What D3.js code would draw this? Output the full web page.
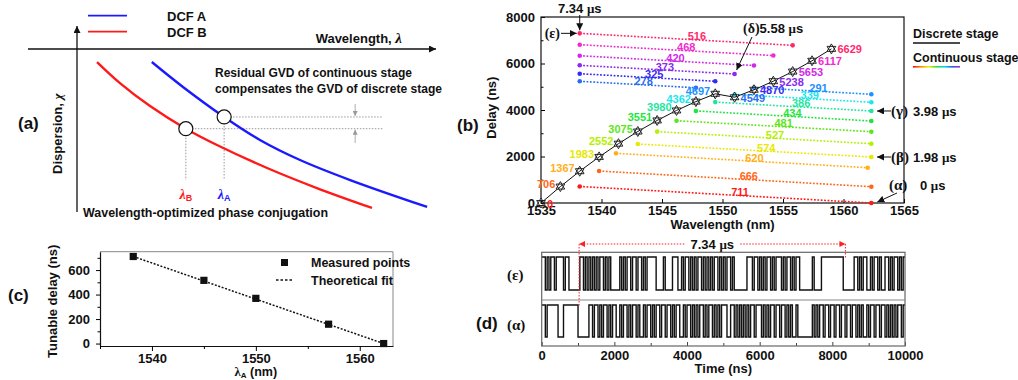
<!DOCTYPE html>
<html><head><meta charset="utf-8">
<script src="https://cdn.jsdelivr.net/npm/d3@7"></script>
<style>
body{margin:0;background:#fff}
text{font-family:"Liberation Sans",Arial,sans-serif;font-weight:bold;fill:#111}
.serif{font-family:"Liberation Serif","Times New Roman",serif}
</style></head><body>
<svg id="fig" width="1018" height="380"></svg>
<script>
// ---- panel (a): sketch curves, arbitrary units ----
const dcfA = [[20.9,92],[29.6,76.7],[41.1,58.3],[51.1,44.2],[62.3,31.9],[76.3,19.6],[97.8,3.1]];
const dcfB = [[5.6,92],[12.0,79.1],[20.4,65.0],[30.4,51.1],[39.1,41.1],[53.1,27.0],[67,14.7],[82.4,2.5]];
const opA = 2, opB = 3; // index of the optimized point on each curve

// ---- panel (b) ----
const discreteWl = [1535.0,1536.6,1538.2,1539.8,1541.4,1543.0,1544.6,1546.2,1547.8,1549.4,1551.0,1552.6,1554.2,1555.8,1557.4,1559.0];
const discreteDelay = [0,706,1367,1983,2552,3075,3551,3980,4362,4697,4549,4870,5238,5653,6117,6629];
const contLabel = [711,666,620,574,527,481,434,386,339,291,278,325,373,420,468,516];
const contWlStart = [1538.2,1539.8,1541.2,1543.0,1544.6,1546.2,1547.8,1549.4,1551.0,1552.6,1538.2,1538.2,1538.2,1538.2,1538.2,1538.2];
const contDelayStart = [711,1376,2137,2538,3070,3540,3960,4340,4670,4966,5234,5561,5922,6335,6809,7297];
const contWlEnd = [1562.3,1562.3,1562.0,1562.3,1562.3,1562.3,1562.3,1562.3,1562.3,1562.3,1547.8,1549.4,1551.0,1552.6,1554.2,1555.8];
const contDelayEnd = [0,701,1518,1978,2551,3067,3527,3957,4331,4675,4956,5236,5549,5915,6341,6781];
const rainbow = ["#ff1a1a","#ff6619","#ffb019","#e8e800","#b4f000","#5ce61a","#1ee63c","#1ee6a0","#19e6f0","#1e90ff","#2a6cf0","#3a2af0","#8a2af0","#d02ae8","#f02ad0","#ff2a6e"];
const xTicksB = [1535,1540,1545,1550,1555,1560,1565];
const yTicksB = [0,2000,4000,6000,8000];

// ---- panel (c) ----
const measWl = [1538.2,1545.0,1550.0,1557.0,1562.3];
const measDelay = [711,516,369,158,0];
const fitWl = [1538.2,1562.3];
const fitDelay = [711,0];

// ---- panel (d): bit patterns, 50 ns per symbol ----
const bitNs = 50;
const epsBits =
  "1101011011"+"1101100000"+"0110101010"+"1011010100"+"0001010110"+
  "1101101011"+"1110000100"+"0011100101"+"1010101101"+"0101011010"+
  "1011010000"+"0001110110"+"1010110101"+"1101011010"+"1100000001"+
  "0000111111"+"1111110000"+"0011010110"+"0101101001"+"1010110101";
const alphaBits =
  "1101111110"+"0011111111"+"0000001101"+"1010110101"+"1001011010"+
  "1101001011"+"0101101101"+"1010110010"+"1101010110"+"1011010101"+
  "1100110101"+"0101011011"+"1010101101"+"1011010100"+"1000000001"+
  "0101101101"+"1011011011"+"0110101001"+"0110110110"+"1010101101";

const svg = d3.select("#fig");
const defs = svg.append("defs");
function addMarker(id, color, size) {
  defs.append("marker").attr("id", id).attr("viewBox", "0 0 10 10")
    .attr("refX", 10).attr("refY", 5).attr("markerUnits", "userSpaceOnUse")
    .attr("markerWidth", size).attr("markerHeight", size).attr("orient", "auto-start-reverse")
    .append("path").attr("d", "M0,0 L10,5 L0,10 z").attr("fill", color);
}
addMarker("arrK", "#111", 7);
addMarker("arrG", "#999", 5);
addMarker("arrR", "#ff2020", 6);
const grad = defs.append("linearGradient").attr("id", "rainbowGrad");
["#ff0000","#ff8800","#eeee00","#33dd33","#00dddd","#3355ff","#9933cc"].forEach((c, i, a) =>
  grad.append("stop").attr("offset", i / (a.length - 1)).attr("stop-color", c));

function arrow(g, x1, y1, x2, y2, color, mk, w) {
  return g.append("line").attr("x1", x1).attr("y1", y1).attr("x2", x2).attr("y2", y2)
    .attr("stroke", color).attr("stroke-width", w || 1.2).attr("marker-end", `url(#${mk})`);
}
const fmt = d3.format("d");
const styleTicks = g => g.selectAll(".tick text").style("font-size", "13px").style("font-weight", "bold")
  .style("font-family", "Liberation Sans, Arial, sans-serif").attr("fill", "#111");

// ================= panel (a) =================
const gA = svg.append("g");
const xA = d3.scaleLinear().domain([0, 100]).range([77, 435]);
const yA = d3.scaleLinear().domain([0, 100]).range([212, 49]);
arrow(gA, xA(0), yA(0), xA(0), 26, "#111", "arrK", 1.3);
arrow(gA, 28, yA(100), 436, yA(100), "#111", "arrK", 1.3);
gA.append("text").attr("x", 18).attr("y", 129).style("font-size", "17px").text("(a)");
gA.append("text").attr("transform", `translate(62,${yA(48)}) rotate(-90)`).attr("text-anchor", "middle")
  .style("font-size", "13px").html('Dispersion, <tspan class="serif" font-style="italic">χ</tspan>');
gA.append("text").attr("x", 402).attr("y", 43).attr("text-anchor", "end")
  .style("font-size", "13px").html('Wavelength, <tspan class="serif" font-style="italic" font-size="15">λ</tspan>');
// legend
gA.append("line").attr("x1", 88).attr("x2", 127).attr("y1", 15.7).attr("y2", 15.7).attr("stroke", "#1a1aff").attr("stroke-width", 1.8);
gA.append("line").attr("x1", 88).attr("x2", 127).attr("y1", 31.7).attr("y2", 31.7).attr("stroke", "#ff1a1a").attr("stroke-width", 1.8);
gA.append("text").attr("x", 167).attr("y", 21).style("font-size", "13px").text("DCF A");
gA.append("text").attr("x", 167).attr("y", 37).style("font-size", "13px").text("DCF B");
// guides
const guideX = 85.5, guideY = 19.6;
[[dcfA[opA], "#1a1aff", "A"], [dcfB[opB], "#ff1a1a", "B"]].forEach(([p, c, s]) => {
  gA.append("line").attr("x1", xA(p[0])).attr("x2", xA(guideX)).attr("y1", yA(p[1])).attr("y2", yA(p[1]))
    .attr("stroke", "#999").attr("stroke-dasharray", "1.5,1.5");
  gA.append("line").attr("x1", xA(p[0])).attr("x2", xA(p[0])).attr("y1", yA(p[1])).attr("y2", yA(guideY))
    .attr("stroke", "#999").attr("stroke-dasharray", "1.5,1.5");
  gA.append("text").attr("x", xA(p[0])).attr("y", 199).attr("text-anchor", "middle").style("fill", c)
    .html(`<tspan class="serif" font-style="italic" font-size="14" fill="${c}">λ</tspan><tspan font-size="9" dy="2" fill="${c}">${s}</tspan>`);
});
arrow(gA, xA(77.7), 104, xA(77.7), yA(dcfA[opA][1]) - 1, "#999", "arrG", 0.8);
arrow(gA, xA(77.7), 143, xA(77.7), yA(dcfB[opB][1]) + 1, "#999", "arrG", 0.8);
const lineA = d3.line().x(d => xA(d[0])).y(d => yA(d[1])).curve(d3.curveCatmullRom.alpha(0.5));
gA.append("path").attr("d", lineA(dcfB)).attr("fill", "none").attr("stroke", "#ff1a1a").attr("stroke-width", 2.4);
gA.append("path").attr("d", lineA(dcfA)).attr("fill", "none").attr("stroke", "#1a1aff").attr("stroke-width", 2.4);
[dcfA[opA], dcfB[opB]].forEach(p => gA.append("circle").attr("cx", xA(p[0])).attr("cy", yA(p[1])).attr("r", 7)
  .attr("fill", "#fff").attr("stroke", "#111").attr("stroke-width", 1.2));
gA.append("text").attr("x", 215).attr("y", 77).attr("textLength", 197).attr("lengthAdjust", "spacingAndGlyphs")
  .style("font-size", "12.5px").text("Residual GVD of continuous stage");
gA.append("text").attr("x", 215).attr("y", 93).attr("textLength", 227).attr("lengthAdjust", "spacingAndGlyphs")
  .style("font-size", "12.5px").text("compensates the GVD of discrete stage");
gA.append("text").attr("x", 83).attr("y", 217).attr("textLength", 245).attr("lengthAdjust", "spacingAndGlyphs")
  .style("font-size", "12.5px").text("Wavelength-optimized phase conjugation");

// ================= panel (b) =================
const gB = svg.append("g");
const xB = d3.scaleLinear().domain([1535, 1565]).range([541, 904]);
const yB = d3.scaleLinear().domain([0, 8000]).range([203, 17]);
gB.append("g").attr("transform", `translate(0,${yB(0)})`)
  .call(d3.axisBottom(xB).tickValues(xTicksB).tickFormat(fmt).tickSizeInner(-4).tickSizeOuter(0).tickPadding(3))
  .call(g => g.select(".domain").remove()).call(styleTicks);
gB.append("g").attr("transform", `translate(${xB(1535)},0)`)
  .call(d3.axisLeft(yB).tickValues(yTicksB).tickFormat(fmt).tickSizeInner(-4).tickSizeOuter(0).tickPadding(6))
  .call(g => g.select(".domain").remove()).call(styleTicks);
gB.append("g").attr("transform", `translate(${xB(1535)},0)`)
  .call(d3.axisLeft(yB).tickValues([1000,3000,5000,7000]).tickSizeInner(-2.5).tickSizeOuter(0).tickFormat(""))
  .call(g => g.select(".domain").remove());
gB.append("rect").attr("x", xB(1535)).attr("y", yB(8000)).attr("width", xB(1565) - xB(1535)).attr("height", yB(0) - yB(8000))
  .attr("fill", "none").attr("stroke", "#111").attr("stroke-width", 1.2);
gB.append("text").attr("transform", `translate(496,${yB(4100)}) rotate(-90)`).attr("text-anchor", "middle").style("font-size", "13px").text("Delay (ns)");
gB.append("text").attr("x", (xB(1535) + xB(1565)) / 2).attr("y", 229).attr("text-anchor", "middle").style("font-size", "13px").text("Wavelength (nm)");
gB.append("text").attr("x", 457).attr("y", 131).style("font-size", "17px").text("(b)");

// continuous stage
contLabel.forEach((lab, i) => {
  const x0 = xB(contWlStart[i]), y0 = yB(contDelayStart[i]), x1 = xB(contWlEnd[i]), y1 = yB(contDelayEnd[i]);
  const c = rainbow[i];
  gB.append("line").attr("x1", x0).attr("y1", y0).attr("x2", x1).attr("y2", y1)
    .attr("stroke", c).attr("stroke-width", 1.6).attr("stroke-dasharray", "1.8,1.6");
  gB.append("circle").attr("cx", x0).attr("cy", y0).attr("r", 2.3).attr("fill", c);
  gB.append("circle").attr("cx", x1).attr("cy", y1).attr("r", 2.3).attr("fill", c);
  const t = 0.55;
  gB.append("text").attr("x", x0 + (x1 - x0) * t).attr("y", y0 + (y1 - y0) * t + 0.5).attr("text-anchor", "middle")
    .style("font-size", "11px").style("fill", c).text(lab);
});
// discrete stage
const lineB = d3.line().x((d, i) => xB(discreteWl[i])).y(d => yB(d));
gB.append("path").attr("d", lineB(discreteDelay)).attr("fill", "none").attr("stroke", "#111").attr("stroke-width", 1);
const r = 5, h = r * 0.866;
const hexagram = `M0,${-r}L${h},${r / 2}L${-h},${r / 2}ZM0,${r}L${h},${-r / 2}L${-h},${-r / 2}Z`;
discreteDelay.forEach((d, i) => {
  const x = xB(discreteWl[i]), y = yB(d);
  gB.append("path").attr("d", hexagram).attr("transform", `translate(${x},${y})`)
    .attr("fill", "#fff").attr("stroke", "#111").attr("stroke-width", 0.9);
  const right = i === 0 || i >= 10;
  gB.append("text").attr("x", right ? x + 6 : x - 5).attr("y", right ? y + 4.5 : y + 1)
    .attr("text-anchor", right ? "start" : "end").style("font-size", "11px").style("fill", rainbow[i]).text(d);
});
// annotations
const epsX = xB(contWlStart[15]), epsY = yB(contDelayStart[15]);
gB.append("text").attr("x", epsX).attr("y", 13).attr("text-anchor", "middle").style("font-size", "13px").html("7.34 <tspan class='serif'>μ</tspan>s");
arrow(gB, epsX, 15, epsX, epsY - 3, "#111", "arrK", 1);
gB.append("text").attr("x", 560).attr("y", epsY + 4.5).attr("text-anchor", "end").attr("class", "serif").style("font-size", "14px").text("(ε)");
arrow(gB, 561, epsY, epsX - 3, epsY, "#111", "arrK", 1);
const delX = xB(contWlEnd[12]), delY = yB(contDelayEnd[12]);
gB.append("text").attr("x", 743).attr("y", 33).style("font-size", "13px")
  .html("<tspan class='serif' font-size='14'>(δ)</tspan>5.58 <tspan class='serif'>μ</tspan>s");
arrow(gB, 752, 37, delX + 2, delY - 4, "#111", "arrK", 1);
[[contDelayEnd[7], "(γ)", "3.98"], [contDelayEnd[3], "(β)", "1.98"]].forEach(([d, g, v]) => {
  const y = yB(d);
  arrow(gB, 891, y, 877, y, "#111", "arrK", 1);
  gB.append("text").attr("x", 891).attr("y", y + 5).attr("class", "serif").style("font-size", "15px").text(g);
  gB.append("text").attr("x", 913).attr("y", y + 5).style("font-size", "13px").html(`${v} <tspan class='serif'>μ</tspan>s`);
});
gB.append("text").attr("x", 889).attr("y", 190).attr("class", "serif").style("font-size", "15px").text("(α)");
gB.append("text").attr("x", 920).attr("y", 190).style("font-size", "13px").html("0 <tspan class='serif'>μ</tspan>s");
arrow(gB, 897, 193, xB(1562.3) + 6, yB(0) - 1, "#111", "arrK", 1);
// legend
gB.append("text").attr("x", 913).attr("y", 38).style("font-size", "12.5px").text("Discrete stage");
gB.append("line").attr("x1", 913).attr("x2", 960).attr("y1", 43).attr("y2", 43).attr("stroke", "#111").attr("stroke-width", 1.5);
gB.append("text").attr("x", 913).attr("y", 62).style("font-size", "12.5px").text("Continuous stage");
gB.append("rect").attr("x", 913).attr("y", 66).attr("width", 47).attr("height", 1.6).attr("fill", "url(#rainbowGrad)");

// ================= panel (c) =================
const gC = svg.append("g");
const xC = d3.scaleLinear().domain([1535, 1563.2]).range([100, 393]);
const yC = d3.scaleLinear().domain([-20, 750]).range([346, 251.7]);
gC.append("g").attr("transform", `translate(0,${yC(-20)})`)
  .call(d3.axisBottom(xC).tickValues([1540, 1550, 1560]).tickFormat(fmt).tickSizeInner(5).tickSizeOuter(0).tickPadding(3))
  .call(styleTicks);
gC.append("g").attr("transform", `translate(0,${yC(-20)})`)
  .call(d3.axisBottom(xC).tickValues([1535, 1545, 1555]).tickFormat("").tickSizeInner(3).tickSizeOuter(0))
  .call(g => g.select(".domain").remove());
gC.append("g").attr("transform", `translate(${xC(1535)},0)`)
  .call(d3.axisLeft(yC).tickValues([0, 200, 400, 600]).tickFormat(fmt).tickSizeInner(4).tickSizeOuter(0).tickPadding(6))
  .call(styleTicks);
gC.append("g").attr("transform", `translate(${xC(1535)},0)`)
  .call(d3.axisLeft(yC).tickValues([100, 300, 500, 700]).tickFormat("").tickSizeInner(2.5).tickSizeOuter(0))
  .call(g => g.select(".domain").remove());
gC.selectAll(".domain").attr("stroke", "#111").attr("stroke-width", 1.2);
gC.append("line").attr("x1", xC(1535)).attr("x2", xC(1563.2)).attr("y1", yC(750)).attr("y2", yC(750)).attr("stroke", "#888");
gC.append("line").attr("x1", xC(1563.2)).attr("x2", xC(1563.2)).attr("y1", yC(750)).attr("y2", yC(-20)).attr("stroke", "#888");
gC.append("path").attr("d", d3.line().x((d, i) => xC(fitWl[i])).y(d => yC(d))(fitDelay))
  .attr("fill", "none").attr("stroke", "#111").attr("stroke-width", 1.5).attr("stroke-dasharray", "2,1.6");
measDelay.forEach((d, i) => gC.append("rect").attr("x", xC(measWl[i]) - 3.6).attr("y", yC(d) - 3.6)
  .attr("width", 7.2).attr("height", 7.2).attr("fill", "#111"));
gC.append("rect").attr("x", 281).attr("y", 259).attr("width", 7).attr("height", 7).attr("fill", "#111");
gC.append("line").attr("x1", 276).attr("x2", 293).attr("y1", 280).attr("y2", 280).attr("stroke", "#111").attr("stroke-width", 1.5).attr("stroke-dasharray", "2.5,2");
gC.append("text").attr("x", 311).attr("y", 267).style("font-size", "12.5px").text("Measured points");
gC.append("text").attr("x", 311).attr("y", 285).style("font-size", "12.5px").text("Theoretical fit");
gC.append("text").attr("transform", `translate(57,${yC(345)}) rotate(-90)`).attr("text-anchor", "middle").style("font-size", "13px").text("Tunable delay (ns)");
gC.append("text").attr("x", xC(1550)).attr("y", 376).attr("text-anchor", "middle").style("font-size", "12.5px")
  .html("<tspan class='serif'>λ</tspan><tspan font-size='8' dy='1.5'>A</tspan><tspan dy='-1.5'> (nm)</tspan>");
gC.append("text").attr("x", 8).attr("y", 301).style("font-size", "17px").text("(c)");

// ================= panel (d) =================
const gD = svg.append("g");
const xD = d3.scaleLinear().domain([0, 10000]).range([541.7, 905]);
const yEps = d3.scaleLinear().domain([0, 1]).range([290, 257]);
const yAlpha = d3.scaleLinear().domain([0, 1]).range([337, 305]);
gD.append("g").attr("transform", "translate(0,346)")
  .call(d3.axisBottom(xD).tickValues(d3.range(0, 10001, 2000)).tickFormat(fmt).tickSizeInner(-4).tickSizeOuter(0).tickPadding(5))
  .call(g => g.select(".domain").remove()).call(styleTicks);
gD.append("g").attr("transform", "translate(0,346)")
  .call(d3.axisBottom(xD).tickValues(d3.range(1000, 10000, 2000)).tickFormat("").tickSizeInner(-3).tickSizeOuter(0))
  .call(g => g.select(".domain").remove());
gD.selectAll(".tick line").attr("stroke", "#444");
function trace(bits, yS) {
  const vals = bits.split("").map(Number);
  vals.push(vals[vals.length - 1]);
  const ln = d3.line().x((d, i) => xD(Math.min(i * bitNs, 10000))).y(d => yS(d)).curve(d3.curveStepAfter);
  gD.append("path").attr("d", ln(vals)).attr("fill", "none").attr("stroke", "#111").attr("stroke-width", 1.4);
}
trace(epsBits, yEps);
trace(alphaBits, yAlpha);
gD.append("rect").attr("x", xD(0)).attr("y", 252.3).attr("width", xD(10000) - xD(0)).attr("height", 346 - 252.3)
  .attr("fill", "none").attr("stroke", "#666").attr("stroke-width", 1.2);
gD.append("line").attr("x1", xD(0)).attr("x2", xD(10000)).attr("y1", 300).attr("y2", 300).attr("stroke", "#888").attr("stroke-width", 1.2);
gD.append("text").attr("x", 507).attr("y", 280).attr("class", "serif").style("font-size", "15px").text("(ε)");
gD.append("text").attr("x", 507).attr("y", 330).attr("class", "serif").style("font-size", "15px").text("(α)");
gD.append("text").attr("x", (xD(0) + xD(10000)) / 2).attr("y", 373).attr("text-anchor", "middle").style("font-size", "13px").text("Time (ns)");
gD.append("text").attr("x", 476).attr("y", 329).style("font-size", "17px").text("(d)");
// 7.34 us marker
const t0 = 1030, t1 = 8360, my = 244;
gD.append("line").attr("x1", xD(t0)).attr("x2", xD(t0)).attr("y1", my).attr("y2", 307).attr("stroke", "#ff2020").attr("stroke-dasharray", "1.5,1.5");
gD.append("line").attr("x1", xD(t1)).attr("x2", xD(t1)).attr("y1", my).attr("y2", 259).attr("stroke", "#ff2020").attr("stroke-dasharray", "1.5,1.5");
const mid = (xD(t0) + xD(t1)) / 2;
arrow(gD, mid - 28, my, xD(t0), my, "#ff2020", "arrR", 1).attr("stroke-dasharray", "1.5,1.5");
arrow(gD, mid + 28, my, xD(t1), my, "#ff2020", "arrR", 1).attr("stroke-dasharray", "1.5,1.5");
gD.append("text").attr("x", mid).attr("y", 249).attr("text-anchor", "middle").style("font-size", "13px").html("7.34 <tspan class='serif'>μ</tspan>s");
</script>
</body></html>
